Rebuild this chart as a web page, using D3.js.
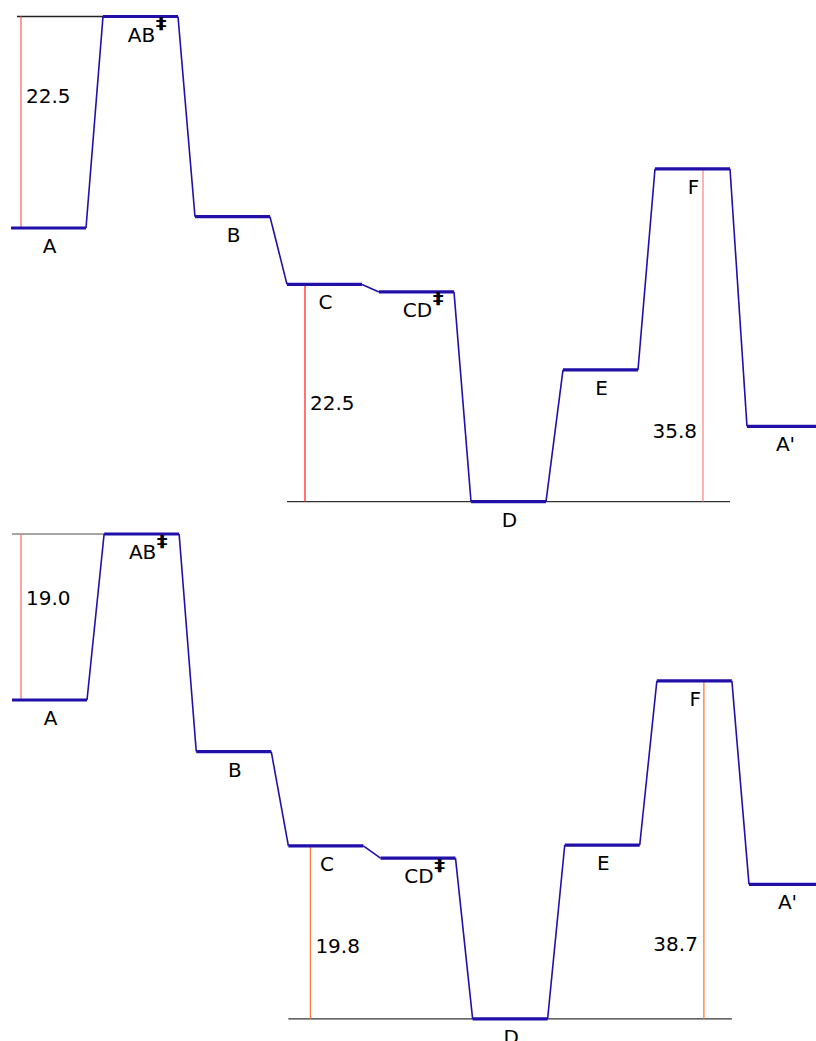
<!DOCTYPE html>
<html>
<head>
<meta charset="utf-8">
<script src="https://cdn.jsdelivr.net/npm/d3@7"></script>
<style>
  html, body { margin: 0; padding: 0; background: #fff; }
  svg { display: block; }
  text { font-family: "DejaVu Sans", sans-serif; fill: #000; }
</style>
</head>
<body>
<svg id="chart" width="816" height="1041"></svg>
<script>
// ---- data ----
const states = ["A", "AB", "B", "C", "CD", "D", "E", "F", "A'"];
const transitionState = [false, true, false, false, true, false, false, false, false];
const topEnergy = [0, 22.5, 1.2, -6.0, -6.8, -29.1, -15.1, 6.3, -21.1];
const bottomEnergy = [0, 19.0, -5.9, -16.7, -18.1, -36.5, -16.6, 2.2, -21.1];
const topBarrierLabels = ["22.5", "22.5", "35.8"];
const bottomBarrierLabels = ["19.0", "19.8", "38.7"];
// barrier pairs: [low state index, high state index]
const barrierPairs = [[0, 1], [5, 3], [5, 7]];

// ---- drawing ----
const svg = d3.select("#chart");
const levelW = 75;
const blue = "#2010a8";

function drawPanel(cfg) {
  const g = svg.append("g");
  const E = cfg.energy;
  const x = d3.scaleLinear().domain([0, states.length - 1]).range(cfg.xRange);
  const y = d3.scaleLinear().domain([0, cfg.refEnergy]).range(cfg.yRange);

  g.append("line")
    .attr("x1", x(0) + cfg.refLineStart).attr("x2", x(1))
    .attr("y1", y(E[1])).attr("y2", y(E[1]))
    .attr("stroke", cfg.refLineColor).attr("stroke-width", 1.3);
  g.append("line")
    .attr("x1", x(3)).attr("x2", x(7) + levelW)
    .attr("y1", y(E[5])).attr("y2", y(E[5]))
    .attr("stroke", "#333").attr("stroke-width", 1.3);

  barrierPairs.forEach((p, k) => {
    const lo = p[0], hi = p[1];
    const lineState = k === 0 ? lo : hi;
    const vx = x(lineState) + cfg.vOffsets[k];
    const y1 = y(E[hi]), y2 = y(E[lo]);
    g.append("line")
      .attr("x1", vx).attr("x2", vx)
      .attr("y1", y1).attr("y2", y2)
      .attr("stroke", cfg.vColors[k]).attr("stroke-width", 1.3);
    const ly = y1 + (y2 - y1) * cfg.labelFrac[k];
    const rightSide = k === 2;
    g.append("text")
      .attr("x", rightSide ? vx - 6 : vx + 5)
      .attr("y", ly)
      .attr("text-anchor", rightSide ? "end" : "start")
      .attr("font-size", 20)
      .text(cfg.labels[k]);
  });

  const conn = d3.range(states.length - 1).map(i => [
    [x(i) + levelW, y(E[i])], [x(i + 1), y(E[i + 1])]
  ]);
  g.selectAll("line.conn").data(conn).join("line")
    .attr("class", "conn")
    .attr("x1", d => d[0][0]).attr("y1", d => d[0][1])
    .attr("x2", d => d[1][0]).attr("y2", d => d[1][1])
    .attr("stroke", blue).attr("stroke-width", 1.6);

  g.selectAll("line.level").data(states).join("line")
    .attr("class", "level")
    .attr("x1", (d, i) => x(i)).attr("x2", (d, i) => x(i) + levelW)
    .attr("y1", (d, i) => y(E[i])).attr("y2", (d, i) => y(E[i]))
    .attr("stroke", blue).attr("stroke-width", 3.2);

  states.forEach((s, i) => {
    const cx = x(i) + levelW / 2 + 1;
    const by = y(E[i]) + 25;
    const t = g.append("text")
      .attr("x", cx).attr("y", by)
      .attr("text-anchor", "middle")
      .attr("font-size", 20)
      .text(s);
    if (transitionState[i]) {
      const w = t.node().getComputedTextLength();
      g.append("text")
        .attr("transform", `translate(${cx + w / 2 + 0.5},${by - 12.5}) scale(1.45,1)`)
        .attr("font-size", 15)
        .attr("font-weight", "bold")
        .text("\u2021");
    }
  });
}

drawPanel({
  energy: topEnergy,
  refEnergy: 22.5,
  xRange: [11, 747],
  yRange: [228, 16.5],
  refLineStart: 6,
  refLineColor: "#222",
  vOffsets: [10, 18, 48],
  vColors: ["#ff6a6a", "#ff2a2a", "#ff8a8a"],
  labels: topBarrierLabels,
  labelFrac: [0.41, 0.58, 0.81]
});

drawPanel({
  energy: bottomEnergy,
  refEnergy: 19.0,
  xRange: [12, 749],
  yRange: [700, 534],
  refLineStart: 0,
  refLineColor: "#888",
  vOffsets: [9, 22, 47],
  vColors: ["#ff7070", "#ff7a40", "#ff7a30"],
  labels: bottomBarrierLabels,
  labelFrac: [0.43, 0.62, 0.80]
});
</script>
</body>
</html>
